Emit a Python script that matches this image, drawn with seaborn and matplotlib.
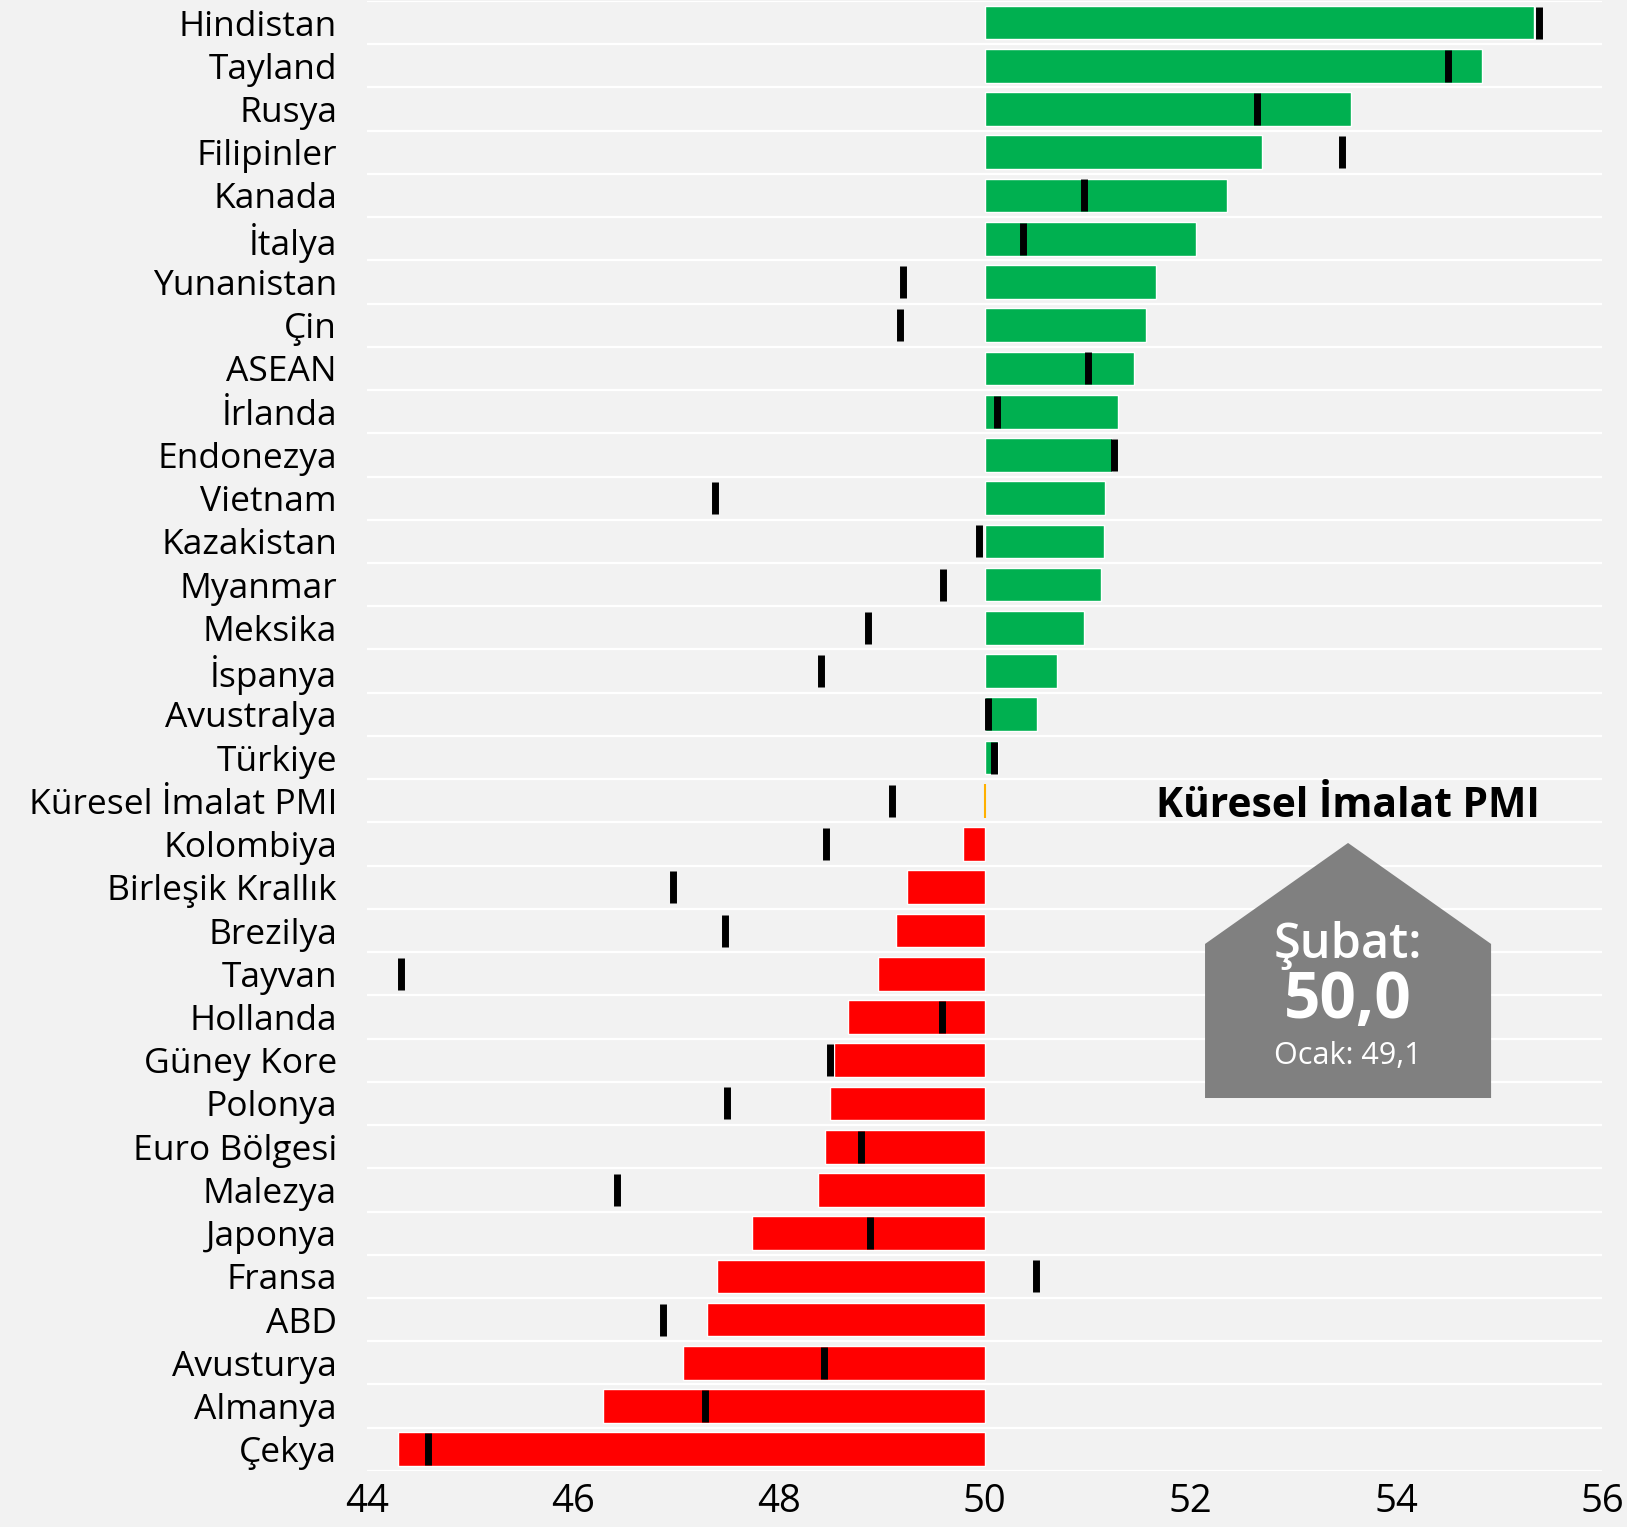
import numpy as np
import pandas as pd
import matplotlib
matplotlib.use("Agg")
import matplotlib.pyplot as plt
import seaborn as sns
from matplotlib.patches import Polygon
from matplotlib.ticker import FixedLocator, FuncFormatter

# Şubat ve Ocak imalat PMI değerleri
countries = ["Hindistan", "Tayland", "Rusya", "Filipinler", "Kanada", "İtalya",
             "Yunanistan", "Çin", "ASEAN", "İrlanda", "Endonezya", "Vietnam",
             "Kazakistan", "Myanmar", "Meksika", "İspanya", "Avustralya", "Türkiye",
             "Küresel İmalat PMI", "Kolombiya", "Birleşik Krallık", "Brezilya",
             "Tayvan", "Hollanda", "Güney Kore", "Polonya", "Euro Bölgesi",
             "Malezya", "Japonya", "Fransa", "ABD", "Avusturya", "Almanya", "Çekya"]
feb = [55.34, 54.83, 53.56, 52.70, 52.36, 52.05, 51.67, 51.57, 51.45, 51.30,
       51.24, 51.17, 51.16, 51.13, 50.97, 50.70, 50.51, 50.13, 50.00, 49.79,
       49.25, 49.14, 48.96, 48.67, 48.54, 48.50, 48.45, 48.38, 47.74, 47.40,
       47.30, 47.07, 46.29, 44.30]
jan = [55.39, 54.50, 52.65, 53.47, 50.97, 50.37, 49.21, 49.18, 51.00, 50.12,
       51.26, 47.38, 49.95, 49.60, 48.87, 48.41, 50.03, 50.09, 49.10, 48.46,
       46.97, 47.48, 44.33, 49.59, 48.50, 47.50, 48.80, 46.43, 48.89, 50.50,
       46.88, 48.44, 47.28, 44.59]
x_ticks = [44, 46, 48, 50, 52, 54, 56]

BASE = 50.0
GLOBAL = "Küresel İmalat PMI"
BG = "#F2F2F2"

sns.set_theme(style="white")
plt.rcParams["font.family"] = ["Open Sans", "DejaVu Sans"]

df = pd.DataFrame({"country": countries, "feb": feb, "jan": jan})
df["dev"] = df["feb"] - BASE
df["jan_dev"] = df["jan"] - BASE
colors = ["#FFB000" if c == GLOBAL else ("#00B050" if d > 0 else "#FF0000")
          for c, d in zip(df["country"], df["dev"])]

fig = plt.figure(figsize=(16.27, 15.27), dpi=100, facecolor=BG)
ax = fig.add_axes([0.2256, 0.0367, 0.7591, 0.9627], facecolor=BG)

# çubuklar 50'den sapma olarak çiziliyor
sns.barplot(data=df, x="dev", y="country", hue="country", palette=colors,
            legend=False, width=0.78, saturation=1, errorbar=None,
            orient="h", ax=ax, zorder=2)
gp = ax.patches[countries.index(GLOBAL)]
gp.set_edgecolor("#FFB000")
gp.set_linewidth(1.5)

# Ocak değerleri (siyah işaretler)
sns.scatterplot(data=df, x="jan_dev", y="country", marker="|", s=540,
                linewidth=5, color="black", ax=ax, zorder=3, legend=False)

n = len(countries)
ax.set_xlim(x_ticks[0] - BASE, x_ticks[-1] - BASE)
ax.set_ylim(n - 0.5, -0.5)
ax.xaxis.set_major_locator(FixedLocator([t - BASE for t in x_ticks]))
ax.xaxis.set_major_formatter(FuncFormatter(lambda v, p: f"{v + BASE:.0f}"))
ax.yaxis.set_minor_locator(FixedLocator(np.arange(-0.5, n, 1)))
ax.grid(False)
ax.grid(which="minor", axis="y", color="white", linewidth=1.6, zorder=1)
ax.set_axisbelow(True)
for s in ax.spines.values():
    s.set_visible(False)
ax.set_xlabel("")
ax.set_ylabel("")
ax.tick_params(axis="y", which="both", length=0, pad=21.6, labelsize=25.5, labelcolor="black")
ax.tick_params(axis="x", which="both", length=0, pad=9, labelsize=27.5, labelcolor="black")

# Küresel PMI kutusu
ax.text(0.7943, 0.4451, GLOBAL, transform=ax.transAxes, ha="center",
        va="baseline", fontsize=29.3, fontweight="bold", color="black", zorder=5)
house = Polygon([(0.6785, 0.2537), (0.6785, 0.3585), (0.7943, 0.4272),
                 (0.9101, 0.3585), (0.9101, 0.2537)], closed=True,
                transform=ax.transAxes, facecolor="#808080", edgecolor="none", zorder=4)
ax.add_patch(house)
ax.text(0.7943, 0.349, "Şubat:", transform=ax.transAxes, ha="center",
        va="baseline", fontsize=35, fontweight="semibold", color="white", zorder=5)
ax.text(0.7943, 0.308, "50,0", transform=ax.transAxes, ha="center",
        va="baseline", fontsize=46, fontweight="bold", color="white", zorder=5)
ax.text(0.7943, 0.2769, "Ocak: 49,1", transform=ax.transAxes, ha="center",
        va="baseline", fontsize=22, color="white", zorder=5)

fig.savefig("out.png", dpi=100, facecolor=BG)
